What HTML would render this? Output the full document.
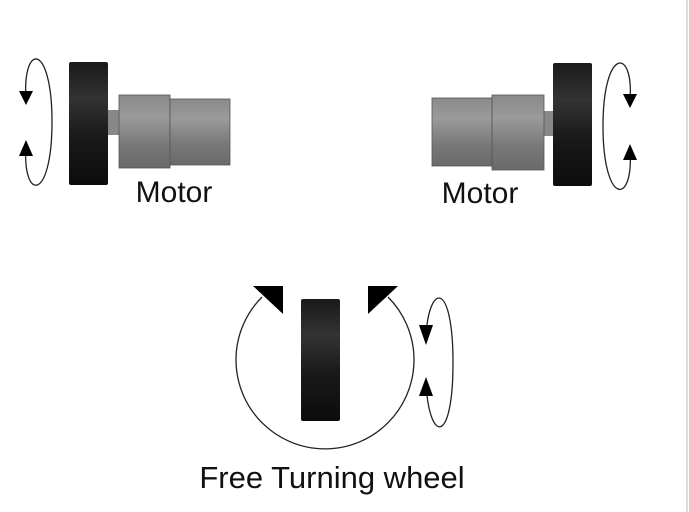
<!DOCTYPE html>
<html><head><style>body{margin:0;background:#fff}svg{display:block}</style></head><body>
<svg width="689" height="512" viewBox="0 0 689 512" xmlns="http://www.w3.org/2000/svg">
<defs>
<linearGradient id="wh" x1="0" y1="0" x2="0" y2="1">
<stop offset="0" stop-color="#1a1a1a"/><stop offset="0.3" stop-color="#333"/><stop offset="0.6" stop-color="#1a1a1a"/><stop offset="1" stop-color="#0c0c0c"/></linearGradient>
<linearGradient id="mt" x1="0" y1="0" x2="0" y2="1">
<stop offset="0" stop-color="#8a8a8a"/><stop offset="0.3" stop-color="#9a9a9a"/><stop offset="0.7" stop-color="#777"/><stop offset="1" stop-color="#6a6a6a"/></linearGradient>
</defs>
<rect x="0" y="0" width="689" height="512" fill="#fff"/>
<line x1="687" y1="0" x2="687" y2="512" stroke="#ddd" stroke-width="2"/>
<g fill="none" stroke="#222" stroke-width="1.3">
<path d="M26,100 C22,42 52,42 52,122 C52,202 22,202 26,145"/>
<path d="M630,100 C634,47 603,47 603,126 C603,206 634,206 630,150"/>
<path d="M426,334 C430,282 453,282 453,363 C453,444 430,444 426,385"/>
<path d="M262,297 A89,89 0 1,0 388,297"/>
</g>
<g fill="#000">
<polygon points="19,91 33,91 26,105"/><polygon points="19,156 33,156 26,140"/>
<polygon points="623,94 637,94 630,108"/><polygon points="623,160 637,160 630,144"/>
<polygon points="419,325 433,325 426,345"/><polygon points="419,396 433,396 426,377"/>
<polygon points="253,286 283,286 283,314"/><polygon points="368,286 398,286 368,314"/>
</g>
<rect x="108" y="110" width="13" height="25" fill="#888"/>
<rect x="119" y="95" width="51" height="73" fill="url(#mt)" stroke="#555" stroke-width="0.8"/>
<rect x="170" y="99" width="60" height="66" fill="url(#mt)" stroke="#555" stroke-width="0.8"/>
<rect x="69" y="62" width="39" height="123" rx="2" fill="url(#wh)"/>
<rect x="542" y="111" width="13" height="25" fill="#888"/>
<rect x="492" y="95" width="52" height="75" fill="url(#mt)" stroke="#555" stroke-width="0.8"/>
<rect x="432" y="98" width="60" height="68" fill="url(#mt)" stroke="#555" stroke-width="0.8"/>
<rect x="553" y="63" width="39" height="123" rx="2" fill="url(#wh)"/>
<rect x="301" y="299" width="39" height="122" rx="2" fill="url(#wh)"/>
<g font-family="'Liberation Sans',sans-serif" fill="#111">
<text x="174" y="202" font-size="30" text-anchor="middle">Motor</text>
<text x="480" y="203" font-size="30" text-anchor="middle">Motor</text>
<text x="332" y="488" font-size="31" text-anchor="middle">Free Turning wheel</text>
</g>
</svg>
</body></html>
